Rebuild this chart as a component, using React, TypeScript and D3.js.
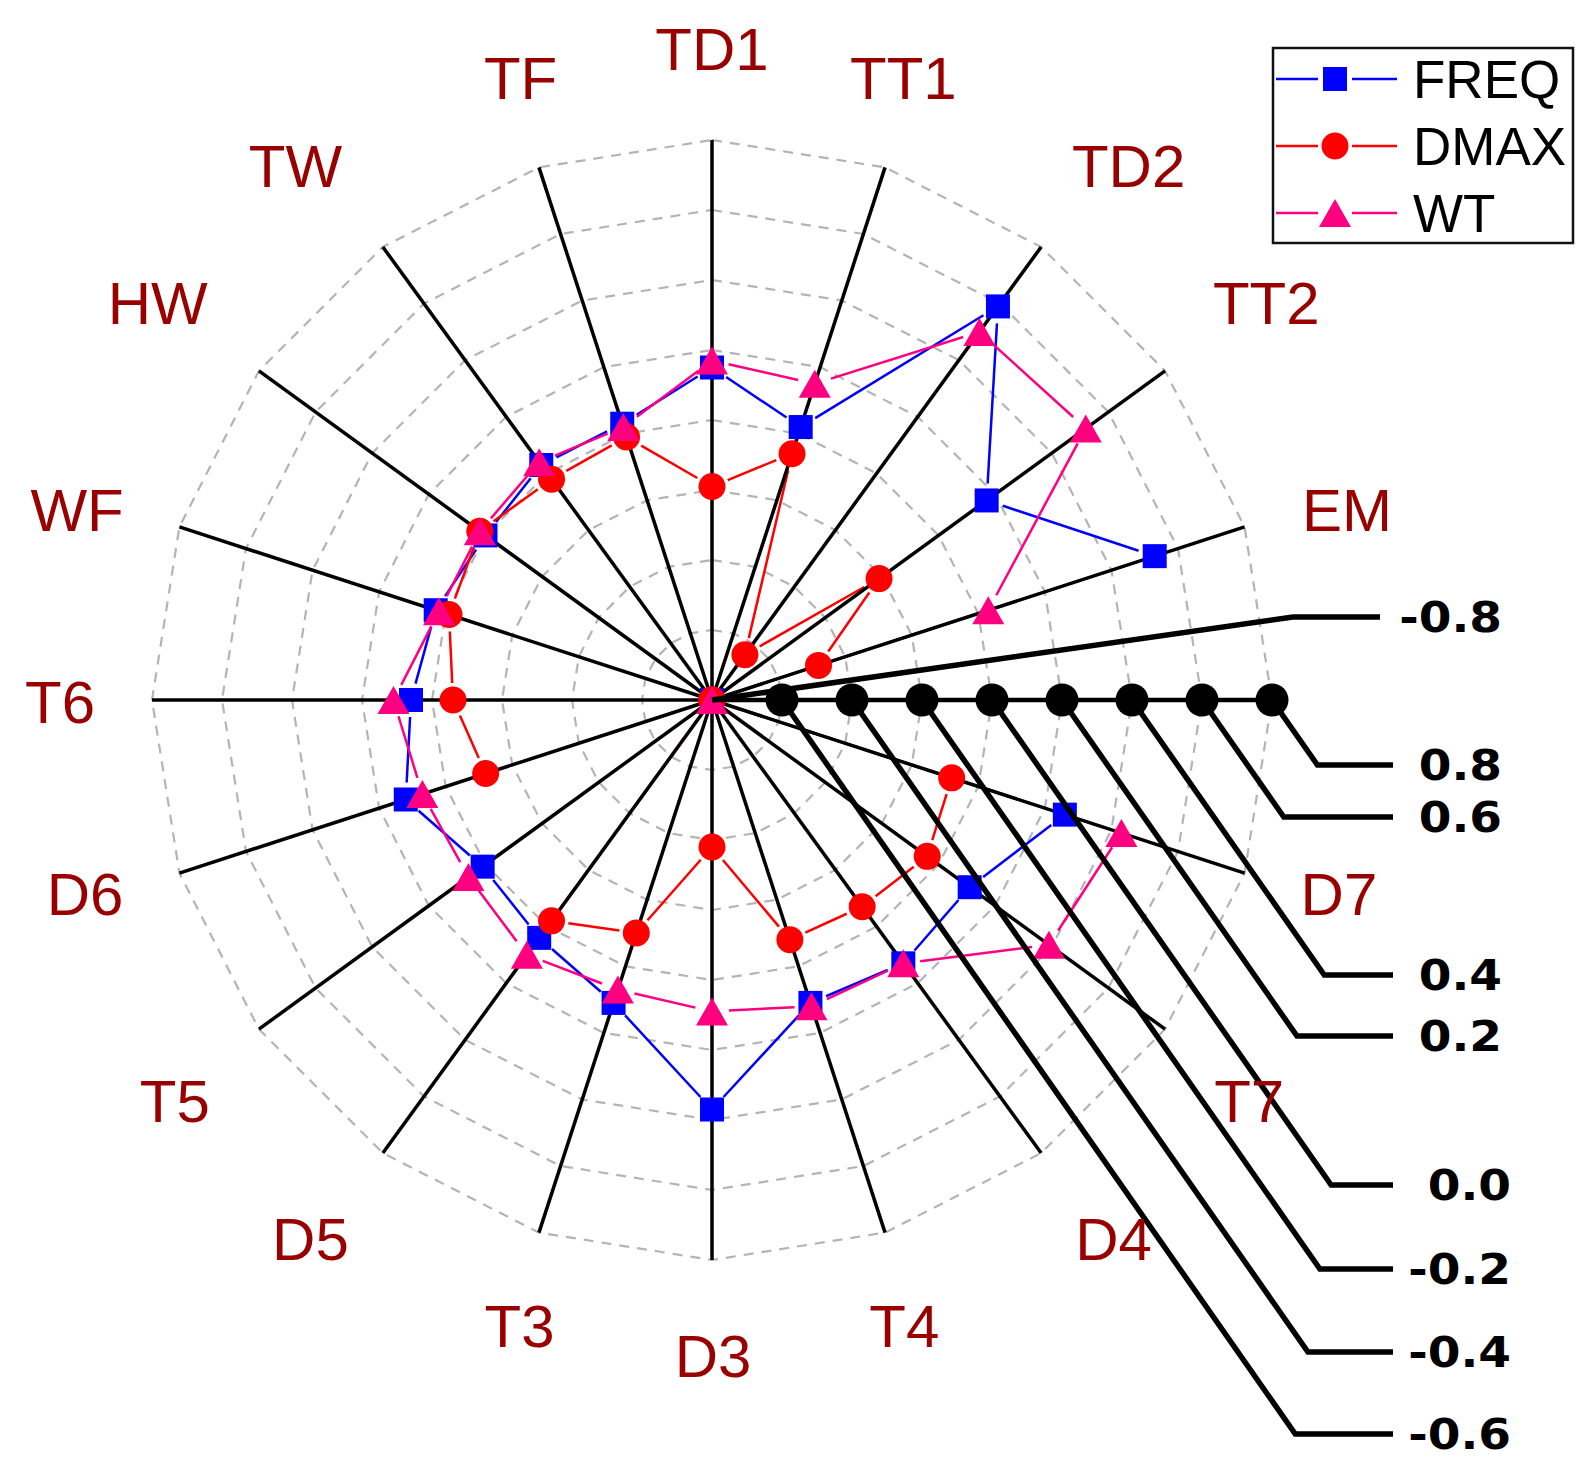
import { useEffect, useRef } from "react";
import * as d3 from "d3";

// Categories clockwise from the top; the unnamed one at 3 o'clock carries the radial scale
const categories = ["TD1", "TT1", "TD2", "TT2", "EM", "", "D7", "T7", "D4", "T4", "D3", "T3", "D5", "T5", "D6", "T6", "WF", "HW", "TW", "TF"];

const freqValues = [0.15, 0.02, 0.59, 0.17, 0.53, -0.8, 0.26, 0.11, 0.13, 0.11, 0.37, 0.11, 0.04, 0.01, 0.12, 0.06, 0.03, 0.0, 0.03, 0.03];
const dmaxValues = [-0.19, -0.06, -0.64, -0.21, -0.48, -0.8, -0.08, -0.04, -0.07, -0.08, -0.38, -0.1, -0.02, -0.8, -0.12, -0.06, -0.01, 0.02, -0.02, -0.01];
const wtValues = [0.17, 0.15, 0.5, 0.52, 0.03, -0.8, 0.43, 0.39, 0.13, 0.12, 0.09, 0.07, 0.1, 0.06, 0.07, 0.11, 0.02, 0.02, 0.04, 0.02];

const seriesNames = ["FREQ", "DMAX", "WT"];

const radialTicks = [-0.8, -0.6, -0.4, -0.2, 0.0, 0.2, 0.4, 0.6, 0.8];
const radialTickLabels = ["-0.8", "-0.6", "-0.4", "-0.2", "0.0", "0.2", "0.4", "0.6", "0.8"];

type Shape = "square" | "circle" | "triangle";

export default function App() {
  const svgRef = useRef<SVGSVGElement>(null);

  useEffect(() => {
    if (!svgRef.current) return;

    const svg = d3.select(svgRef.current);
    svg.selectAll("*").remove();

    // Layout
    const cx = 712;
    const cy = 700;
    const R = 560;
    const n = categories.length;
    const scaleIdx = categories.indexOf("");
    const labelColor = "#990000";
    const font = "'Liberation Sans', Arial, Helvetica, sans-serif";
    // small hand nudges of the category labels, same order as categories
    const labelNudge = [
      [0, 0], [-13, 6], [19, 13], [7, 0], [6, 14], [0, 0], [-2, -11], [-10, 3], [4, -9], [-12, -4],
      [1, 3], [12, -4], [-4, -9], [10, 3], [2, -11], [0, 1], [-6, 14], [-7, 0], [-19, 13], [13, 6],
    ];

    const series = [
      { name: seriesNames[0], values: freqValues, color: "#0000ff", shape: "square" as Shape },
      { name: seriesNames[1], values: dmaxValues, color: "#ff0000", shape: "circle" as Shape },
      { name: seriesNames[2], values: wtValues, color: "#ff0080", shape: "triangle" as Shape },
    ];

    // Scales
    const r = d3.scaleLinear().domain([-0.8, 0.8]).range([0, R]);
    const angle = d3.scaleLinear().domain([0, n]).range([0, 2 * Math.PI]);
    const pos = (i: number, v: number): [number, number] => {
      const [x, y] = d3.pointRadial(angle(i), r(v));
      return [cx + x, cy + y];
    };

    svg.append("rect").attr("width", 1596).attr("height", 1476).attr("fill", "#fff");
    const g = svg.append("g");

    // Dashed grid polygons
    const ring = d3
      .lineRadial<string>()
      .angle((_d, i) => angle(i))
      .curve(d3.curveLinearClosed);
    radialTicks
      .filter((t) => t > -0.8)
      .forEach((t) => {
        g.append("path")
          .attr("transform", `translate(${cx},${cy})`)
          .attr("d", ring.radius(r(t))(categories))
          .attr("fill", "none")
          .attr("stroke", "#b4b4b4")
          .attr("stroke-width", 2.2)
          .attr("stroke-dasharray", "10,8");
      });

    // Series lines, with small gaps at the markers
    const gap = 17;
    series.forEach((s) => {
      for (let i = 0; i < n; i++) {
        const j = (i + 1) % n;
        const p = pos(i, s.values[i]);
        const q = pos(j, s.values[j]);
        const dx = q[0] - p[0];
        const dy = q[1] - p[1];
        const len = Math.hypot(dx, dy);
        if (len <= 2 * gap) continue;
        const ux = dx / len;
        const uy = dy / len;
        g.append("line")
          .attr("x1", p[0] + ux * gap)
          .attr("y1", p[1] + uy * gap)
          .attr("x2", q[0] - ux * gap)
          .attr("y2", q[1] - uy * gap)
          .attr("stroke", s.color)
          .attr("stroke-width", 2.5);
      }
    });

    // Spokes
    categories.forEach((_c, i) => {
      const [x, y] = pos(i, 0.8);
      g.append("line")
        .attr("x1", cx)
        .attr("y1", cy)
        .attr("x2", x)
        .attr("y2", y)
        .attr("stroke", "#000")
        .attr("stroke-width", 3.5);
    });

    // Markers
    const marker = (sel: d3.Selection<SVGGElement, unknown, null, undefined>, shape: Shape, color: string, x: number, y: number) => {
      if (shape === "square") {
        sel.append("rect").attr("x", x - 12).attr("y", y - 12).attr("width", 24).attr("height", 24).attr("fill", color);
      } else if (shape === "circle") {
        sel.append("circle").attr("cx", x).attr("cy", y).attr("r", 13.5).attr("fill", color);
      } else {
        sel.append("path")
          .attr("d", `M${x},${y - 14}L${x + 16},${y + 14}L${x - 16},${y + 14}Z`)
          .attr("fill", color);
      }
    };
    series.forEach((s) => {
      s.values.forEach((v, i) => {
        const [x, y] = pos(i, v);
        marker(g, s.shape, s.color, x, y);
      });
    });

    // Radial scale axis with tick dots
    const [ax, ay] = pos(scaleIdx, 0.8);
    g.append("line")
      .attr("x1", cx)
      .attr("y1", cy)
      .attr("x2", ax)
      .attr("y2", ay)
      .attr("stroke", "#000")
      .attr("stroke-width", 4.5);
    radialTicks
      .filter((t) => t > -0.8)
      .forEach((t) => {
        const [x, y] = pos(scaleIdx, t);
        g.append("circle").attr("cx", x).attr("cy", y).attr("r", 16.5).attr("fill", "#000");
      });

    // Leader lines to the tick labels
    const leaderY = [617, 1434, 1352, 1269, 1185, 1036, 975, 817, 765];
    const leaderEndX = 1393;
    const slope = 1.43;
    radialTicks.forEach((t, k) => {
      const [x0, y0] = pos(scaleIdx, t);
      const ey = leaderY[k];
      const ex = t === -0.8 ? 1293 : x0 + (ey - y0) / slope;
      const endX = t === -0.8 ? 1380 : leaderEndX;
      const labelRight = t === -0.8 || t > 0.1 ? 1502 : 1511;
      g.append("path")
        .attr("d", `M${x0},${y0}L${ex},${ey}L${endX},${ey}`)
        .attr("fill", "none")
        .attr("stroke", "#000")
        .attr("stroke-width", 5.5)
        .attr("stroke-linejoin", "miter");
      g.append("text")
        .attr("transform", `translate(${labelRight},${ey}) scale(1.12,1)`)
        .attr("dy", "0.36em")
        .attr("text-anchor", "end")
        .attr("font-family", "'DejaVu Sans', sans-serif")
        .attr("font-weight", "bold")
        .attr("font-size", 42)
        .attr("fill", "#000")
        .text(radialTickLabels[k]);
    });

    // Category labels
    categories.forEach((c, i) => {
      if (!c) return;
      const th = angle(i);
      const lr = 652 + 27 * Math.pow(Math.sin(2 * th), 2);
      const [x, y] = d3.pointRadial(th, lr);
      g.append("text")
        .attr("x", cx + x + labelNudge[i][0])
        .attr("y", cy + y + labelNudge[i][1])
        .attr("dy", "0.36em")
        .attr("text-anchor", "middle")
        .attr("font-family", font)
        .attr("font-size", 60)
        .attr("fill", labelColor)
        .text(c);
    });

    // Legend
    const lg = svg.append("g");
    lg.append("rect")
      .attr("x", 1273)
      .attr("y", 48)
      .attr("width", 300)
      .attr("height", 195)
      .attr("fill", "#fff")
      .attr("stroke", "#111")
      .attr("stroke-width", 2.5);
    series.forEach((s, i) => {
      const y = 79 + i * 67;
      const mx = 1335;
      lg.append("line").attr("x1", 1276).attr("x2", mx - 17).attr("y1", y).attr("y2", y).attr("stroke", s.color).attr("stroke-width", 2.5);
      lg.append("line").attr("x1", mx + 17).attr("x2", 1397).attr("y1", y).attr("y2", y).attr("stroke", s.color).attr("stroke-width", 2.5);
      marker(lg, s.shape, s.color, mx, y);
      lg.append("text")
        .attr("x", 1413)
        .attr("y", y)
        .attr("dy", "0.36em")
        .attr("font-family", font)
        .attr("font-size", 53)
        .attr("fill", "#000")
        .text(s.name);
    });
  }, []);

  return (
    <svg
      ref={svgRef}
      width={1596}
      height={1476}
      style={{ position: "absolute", left: 0, top: 0 }}
    />
  );
}
